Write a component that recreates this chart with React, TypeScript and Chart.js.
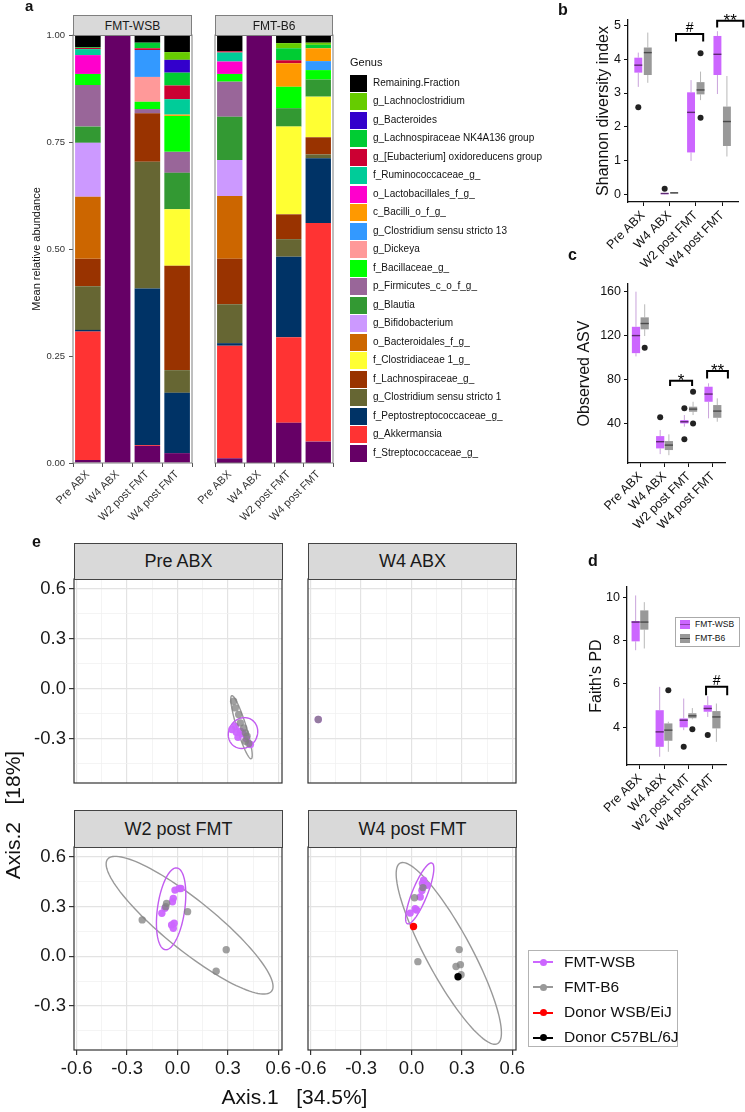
import React, { useEffect, useRef } from 'react';
import { Chart, registerables } from 'chart.js';

Chart.register(...registerables);

const FONT = "'Liberation Sans', Arial, Helvetica, sans-serif";
Chart.defaults.font.family = FONT;
Chart.defaults.color = '#222';

// ---------------- panel a data ----------------
const CATS = ['Pre ABX', 'W4 ABX', 'W2 post FMT', 'W4 post FMT'];
const FACETS_A = ['FMT-WSB', 'FMT-B6'];
const GENERA = [
  'Remaining.Fraction', 'g_Lachnoclostridium', 'g_Bacteroides', 'g_Lachnospiraceae NK4A136 group',
  'g_[Eubacterium] oxidoreducens group', 'f_Ruminococcaceae_g_', 'o_Lactobacillales_f_g_', 'c_Bacilli_o_f_g_',
  'g_Clostridium sensu stricto 13', 'g_Dickeya', 'f_Bacillaceae_g_', 'p_Firmicutes_c_o_f_g_', 'g_Blautia',
  'g_Bifidobacterium', 'o_Bacteroidales_f_g_', 'f_Clostridiaceae 1_g_', 'f_Lachnospiraceae_g_',
  'g_Clostridium sensu stricto 1', 'f_Peptostreptococcaceae_g_', 'g_Akkermansia', 'f_Streptococcaceae_g_',
];
const GENUS_COLORS = [
  '#000000', '#66CC00', '#3300CC', '#00CC33', '#CC0033', '#00CC99', '#FF00CC', '#FF9900', '#3399FF', '#FF9999',
  '#00FF00', '#996699', '#339933', '#CC99FF', '#CC6600', '#FFFF33', '#993300', '#666633', '#003366', '#FF3333', '#660066',
];
const A_TICKS = [0, 0.25, 0.5, 0.75, 1];
const A_TICK_LABELS = ['0.00', '0.25', '0.50', '0.75', '1.00'];

// values in GENERA order
const WSB_PRE = [0.028, 0, 0, 0.002, 0.003, 0.014, 0.044, 0, 0, 0, 0.026, 0.097, 0.038, 0.126, 0.145, 0, 0.064, 0.102, 0.004, 0.300, 0.007];
const WSB_W4ABX = [0, 0, 0, 0, 0, 0, 0, 0, 0, 0, 0, 0, 0, 0, 0, 0, 0, 0, 0, 0, 1];
const WSB_W2 = [0.018, 0, 0, 0.013, 0.004, 0, 0, 0, 0.063, 0.058, 0.017, 0.010, 0, 0, 0, 0, 0.113, 0.296, 0.366, 0.002, 0.040];
const WSB_W4 = [0.040, 0.018, 0.030, 0.030, 0.032, 0.036, 0, 0.003, 0, 0, 0.084, 0.049, 0.085, 0, 0, 0.132, 0.244, 0.053, 0.141, 0, 0.023];
const B6_PRE = [0.038, 0, 0, 0, 0.003, 0.021, 0.029, 0, 0, 0, 0.018, 0.082, 0.101, 0.084, 0.147, 0, 0.106, 0.091, 0.006, 0.263, 0.011];
const B6_W4ABX = [0, 0, 0, 0, 0, 0, 0, 0, 0, 0, 0, 0, 0, 0, 0, 0, 0, 0, 0, 0, 1];
const B6_W2 = [0.019, 0.012, 0, 0.028, 0.007, 0, 0, 0.055, 0, 0, 0.050, 0, 0.043, 0, 0, 0.205, 0.058, 0.041, 0.188, 0.200, 0.094];
const B6_W4 = [0.018, 0.005, 0, 0.008, 0, 0, 0, 0.030, 0.021, 0, 0.022, 0, 0.040, 0, 0, 0.095, 0.040, 0.009, 0.151, 0.511, 0.050];

// ---------------- panels b, c, d data: [lower whisker, q1, median, q3, upper whisker] ----------------
const GROUPS = ['FMT-WSB', 'FMT-B6'];
const SHANNON_WSB = [[3.18, 3.6, 3.82, 4.04, 4.19], [0.02, 0.03, 0.04, 0.05, 0.06], [1.0, 1.25, 2.43, 3.02, 3.38], [2.97, 3.53, 4.14, 4.68, 4.82]];
const SHANNON_B6 = [[3.30, 3.53, 4.19, 4.34, 4.78], [0.04, 0.05, 0.06, 0.07, 0.08], [2.79, 2.96, 3.09, 3.32, 3.63], [1.13, 1.44, 2.16, 2.60, 3.50]];
const SHANNON_WSB_OUT = [[1, 2.58], [2, 0.18]];
const SHANNON_B6_OUT = [[3, 4.17], [3, 2.27]];
const SHANNON_TICKS = [0, 1, 2, 3, 4, 5];
const SHANNON_BRACKETS = [[2.25, 3.28, 4.74, 4.52, '#'], [3.81, 4.8, 5.13, 4.93, '**']];

const ASV_WSB = [[101, 104, 120, 128, 160], [12, 17.2, 23.3, 28.4, 34], [37, 40, 41.5, 43, 47.6], [44.6, 59.7, 66.7, 73.4, 76.5]];
const ASV_B6 = [[119.6, 125.7, 131, 136.6, 148.5], [11, 15.7, 20.2, 23.9, 30], [47.6, 50.6, 53, 55.2, 59.7], [41.5, 45.1, 51.2, 56.7, 62.8]];
const ASV_WSB_OUT = [[2, 45.5], [3, 53.7], [3, 25.5]];
const ASV_B6_OUT = [[1, 109], [3, 68.8], [3, 40]];
const ASV_TICKS = [40, 80, 120, 160];
const ASV_BRACKETS = [[2.23, 3.14, 78.9, 74, '*'], [3.76, 4.62, 87.7, 81, '**']];

const FAITH_WSB = [[7.55, 7.96, 8.85, 8.9, 10.08], [2.63, 3.09, 3.78, 4.78, 5.86], [3.86, 3.99, 4.32, 4.4, 5.32], [4.47, 4.71, 4.86, 5.01, 5.43]];
const FAITH_B6 = [[7.63, 8.5, 8.85, 9.39, 9.77], [2.86, 3.37, 3.86, 4.17, 4.25], [4.36, 4.41, 4.52, 4.64, 4.88], [3.32, 3.94, 4.47, 4.74, 5.09]];
const FAITH_WSB_OUT = [[3, 3.09], [4, 3.63]];
const FAITH_B6_OUT = [[2, 5.7], [3, 3.9]];
const FAITH_TICKS = [4, 6, 8, 10];
const FAITH_BRACKETS = [[3.75, 4.63, 5.86, 5.47, '#']];

// ---------------- panel e data ----------------
const E_FACETS = ['Pre ABX', 'W4 ABX', 'W2 post FMT', 'W4 post FMT'];
const E_TICKS = [-0.6, -0.3, 0, 0.3, 0.6];
const E_TICK_LABELS = ['-0.6', '-0.3', '0.0', '0.3', '0.6'];
const E_MINOR = [-0.45, -0.15, 0.15, 0.45];
const E_GROUPS = ['FMT-WSB', 'FMT-B6', 'Donor WSB/EiJ', 'Donor C57BL/6J'];

const PRE_WSB_PTS = [[0.324, -0.244], [0.344, -0.224], [0.374, -0.254], [0.39, -0.27], [0.41, -0.3], [0.434, -0.334], [0.36, -0.29], [0.35, -0.26]];
const PRE_B6_PTS = [[0.334, -0.074], [0.344, -0.114], [0.364, -0.154], [0.374, -0.204], [0.394, -0.234], [0.404, -0.264], [0.414, -0.284], [0.404, -0.314], [0.424, -0.328]];
const W4ABX_WSB_PTS = [[-0.555, -0.184]];
const W4ABX_B6_PTS = [[-0.555, -0.184]];
const W2_WSB_PTS = [[-0.093, 0.26], [-0.075, 0.29], [-0.03, 0.33], [-0.025, 0.35], [-0.015, 0.40], [0.01, 0.41], [0.02, 0.41], [-0.035, 0.19], [-0.025, 0.17], [-0.02, 0.2]];
const W2_B6_PTS = [[-0.21, 0.22], [-0.07, 0.30], [-0.065, 0.32], [0.06, 0.27], [0.29, 0.04], [0.23, -0.09]];
const W4_WSB_PTS = [[-0.008, 0.261], [0.022, 0.287], [0.03, 0.28], [0.062, 0.398], [0.072, 0.459], [0.065, 0.44], [0.092, 0.429], [0.052, 0.358]];
const W4_B6_PTS = [[0.018, 0.354], [0.068, 0.415], [0.038, -0.032], [0.284, 0.041], [0.265, -0.061], [0.291, -0.05], [0.295, -0.111]];
const DONOR_WSB_PTS = [[0.012, 0.18]];
const DONOR_B6_PTS = [[0.277, -0.123]];

// ellipses: [cx, cy, semi-major, semi-minor, angle in degrees]
const PRE_ELL_WSB = [0.39, -0.265, 0.095, 0.085, 60];
const PRE_ELL_B6 = [0.381, -0.23, 0.198, 0.028, -73];
const W2_ELL_WSB = [-0.038, 0.287, 0.249, 0.081, 82];
const W2_ELL_B6 = [0.072, 0.188, 0.63, 0.15, -39.3];
const W4_ELL_WSB = [0.049, 0.38, 0.197, 0.045, 68.3];
const W4_ELL_B6 = [0.222, 0.018, 0.617, 0.135, -62];

// ---------------- styles ----------------
const PURPLE = '#CC66FF';
const GREY = '#999999';
const E_COLORS = ['#CC66FF', '#999999', '#FF0000', '#000000'];
const E_POINT_COLORS = ['rgba(204,102,255,0.95)', 'rgba(128,128,128,0.75)', '#FF0000', '#000000'];

const fixSize = (size: number) => (s: any) => {
  if (s.isHorizontal()) s.height = size; else s.width = size;
  s.paddingLeft = 0; s.paddingRight = 0; s.paddingTop = 0; s.paddingBottom = 0;
};

const panelBox = {
  id: 'panelBox',
  afterDraw(chart: any, _a: any, opts: any) {
    if (!opts || !opts.color) return;
    const { ctx, chartArea } = chart;
    ctx.save();
    ctx.strokeStyle = opts.color;
    ctx.lineWidth = opts.width || 1;
    ctx.strokeRect(chartArea.left, chartArea.top, chartArea.right - chartArea.left, chartArea.bottom - chartArea.top);
    ctx.restore();
  },
};

const boxPlugin = {
  id: 'boxes',
  beforeDatasetsDraw(chart: any, _a: any, opts: any) {
    if (!opts || !opts.groups) return;
    const xs = chart.scales.x, ys = chart.scales.y, ctx = chart.ctx;
    ctx.save();
    opts.groups.forEach((g: any) => {
      g.stats.forEach((s: number[], i: number) => {
        const c = i + 1 + g.off;
        const xl = xs.getPixelForValue(c - opts.width / 2);
        const xr = xs.getPixelForValue(c + opts.width / 2);
        const xc = xs.getPixelForValue(c);
        const [lo, q1, med, q3, hi] = s.map((v) => ys.getPixelForValue(v));
        ctx.strokeStyle = g.whisker;
        ctx.lineWidth = 1;
        ctx.beginPath();
        ctx.moveTo(xc, lo); ctx.lineTo(xc, q1);
        ctx.moveTo(xc, q3); ctx.lineTo(xc, hi);
        ctx.stroke();
        ctx.fillStyle = g.fill;
        ctx.fillRect(xl, q3, xr - xl, Math.max(q1 - q3, 1));
        ctx.strokeStyle = g.median;
        ctx.lineWidth = 1.4;
        ctx.beginPath();
        ctx.moveTo(xl, med); ctx.lineTo(xr, med);
        ctx.stroke();
      });
    });
    ctx.restore();
  },
  afterDatasetsDraw(chart: any, _a: any, opts: any) {
    if (!opts || !opts.brackets) return;
    const xs = chart.scales.x, ys = chart.scales.y, ctx = chart.ctx;
    ctx.save();
    ctx.strokeStyle = '#000';
    ctx.fillStyle = '#000';
    ctx.lineWidth = 2;
    opts.brackets.forEach((b: any[]) => {
      const x1 = xs.getPixelForValue(b[0]), x2 = xs.getPixelForValue(b[1]);
      const yt = ys.getPixelForValue(b[2]), ye = ys.getPixelForValue(b[3]);
      ctx.beginPath();
      ctx.moveTo(x1, ye); ctx.lineTo(x1, yt); ctx.lineTo(x2, yt); ctx.lineTo(x2, ye);
      ctx.stroke();
      const star = String(b[4]).includes('*');
      ctx.font = `${star ? 17 : 14}px ${FONT}`;
      ctx.textAlign = 'center';
      ctx.textBaseline = 'alphabetic';
      ctx.fillText(String(b[4]), (x1 + x2) / 2, yt + (star ? 5 : -2));
    });
    ctx.restore();
  },
};

const ellipsePlugin = {
  id: 'ellipses',
  beforeDatasetsDraw(chart: any, _a: any, opts: any) {
    if (!opts || !opts.list) return;
    const xs = chart.scales.x, ys = chart.scales.y, ctx = chart.ctx, ca = chart.chartArea;
    ctx.save();
    ctx.beginPath();
    ctx.rect(ca.left, ca.top, ca.right - ca.left, ca.bottom - ca.top);
    ctx.clip();
    opts.list.forEach((e: any) => {
      const [cx, cy, a, b, ang] = e.p;
      const th = (ang * Math.PI) / 180;
      ctx.strokeStyle = e.color;
      ctx.lineWidth = 1.4;
      ctx.beginPath();
      for (let k = 0; k <= 120; k++) {
        const t = (k / 120) * Math.PI * 2;
        const dx = a * Math.cos(t), dy = b * Math.sin(t);
        const px = xs.getPixelForValue(cx + dx * Math.cos(th) - dy * Math.sin(th));
        const py = ys.getPixelForValue(cy + dx * Math.sin(th) + dy * Math.cos(th));
        if (k === 0) ctx.moveTo(px, py); else ctx.lineTo(px, py);
      }
      ctx.stroke();
    });
    ctx.restore();
  },
};

// ---------------- configs ----------------
function barConfig(bars: number[][], showY: boolean, pad: any) {
  const datasets: any[] = [];
  for (let g = GENERA.length - 1; g >= 0; g--) {
    datasets.push({
      label: GENERA[g],
      data: bars.map((b) => b[g]),
      backgroundColor: GENUS_COLORS[g],
      borderWidth: 0,
      barPercentage: 0.86,
      categoryPercentage: 1,
    });
  }
  return {
    type: 'bar',
    data: { labels: CATS, datasets },
    options: {
      responsive: false, animation: false, events: [],
      layout: { padding: pad },
      plugins: { legend: { display: false }, tooltip: { enabled: false }, panelBox: { color: '#7F7F7F', width: 1 } },
      scales: {
        x: {
          stacked: true,
          grid: { drawOnChartArea: false, tickLength: 4, color: '#555' },
          border: { display: false },
          ticks: { minRotation: 45, maxRotation: 45, autoSkip: false, font: { size: 11 }, color: '#333', padding: 1 },
          afterFit: fixSize(67),
        },
        y: {
          stacked: true, min: 0, max: 1, display: showY,
          afterBuildTicks: (s: any) => { s.ticks = A_TICKS.map((v) => ({ value: v })); },
          ticks: { callback: (v: any) => A_TICK_LABELS[A_TICKS.indexOf(v)], font: { size: 9.5 }, color: '#333', padding: 4 },
          grid: { drawOnChartArea: false, tickLength: 4, color: '#555' },
          border: { display: false },
          title: { display: true, text: 'Mean relative abundance', font: { size: 11 }, color: '#111', padding: { top: 30, bottom: 0 } },
          afterFit: fixSize(showY ? 73 : 0),
        },
      },
    },
    plugins: [panelBox],
  };
}

function boxConfig(o: any) {
  const off = [-0.18, 0.18];
  return {
    type: 'scatter',
    data: {
      datasets: [
        { data: o.wsbOut.map((p: number[]) => ({ x: p[0] + off[0], y: p[1] })), pointRadius: 3, backgroundColor: '#222', borderWidth: 0 },
        { data: o.b6Out.map((p: number[]) => ({ x: p[0] + off[1], y: p[1] })), pointRadius: 3, backgroundColor: '#222', borderWidth: 0 },
      ],
    },
    options: {
      responsive: false, animation: false, events: [],
      layout: { padding: o.pad },
      plugins: {
        legend: { display: false }, tooltip: { enabled: false },
        boxes: {
          width: o.boxW,
          brackets: o.brackets,
          groups: [
            { stats: o.wsb, off: off[0], fill: PURPLE, whisker: '#C9A3DB', median: '#5E2A72' },
            { stats: o.b6, off: off[1], fill: GREY, whisker: '#B8B8B8', median: '#4A4A4A' },
          ],
        },
      },
      scales: {
        x: {
          type: 'linear', min: o.xMin, max: o.xMax,
          afterBuildTicks: (s: any) => { s.ticks = CATS.map((_, i) => ({ value: i + 1 })); },
          ticks: { callback: (v: any) => CATS[Math.round(v) - 1], minRotation: 45, maxRotation: 45, autoSkip: false, font: { size: 12.5 }, color: '#111', padding: 2 },
          grid: { drawOnChartArea: false, tickLength: 4, color: '#111' },
          border: { color: '#111', width: 1.3 },
          afterFit: fixSize(o.xH),
        },
        y: {
          type: 'linear', min: o.yMin, max: o.yMax,
          afterBuildTicks: (s: any) => { s.ticks = o.yTicks.map((v: number) => ({ value: v })); },
          ticks: { font: { size: 12.5 }, color: '#111', padding: 3 },
          grid: { drawOnChartArea: false, tickLength: 4, color: '#111' },
          border: { color: '#111', width: 1.3 },
          title: { display: true, text: o.title, font: { size: 16 }, color: '#111', padding: { top: o.titlePad, bottom: 0 } },
          afterFit: fixSize(o.yW),
        },
      },
    },
    plugins: [boxPlugin],
  };
}

const isMajor = (v: number) => E_TICKS.some((t) => Math.abs(t - v) < 1e-9);
const eLabel = (v: number) => {
  const i = E_TICKS.findIndex((t) => Math.abs(t - v) < 1e-9);
  return i >= 0 ? E_TICK_LABELS[i] : '';
};

function eAxis(min: number, max: number, show: boolean, size: number) {
  return {
    type: 'linear', min, max,
    afterBuildTicks: (s: any) => {
      s.ticks = [...E_TICKS, ...E_MINOR].filter((v) => v >= min && v <= max).sort((a, b) => a - b).map((v) => ({ value: v }));
    },
    ticks: { display: show, callback: (v: any) => eLabel(v), font: { size: 18.5 }, color: '#1a1a1a', padding: 3, autoSkip: false, minRotation: 0, maxRotation: 0 },
    grid: {
      color: (c: any) => (c.tick && isMajor(c.tick.value) ? '#E3E3E3' : '#F1F1F1'),
      lineWidth: (c: any) => (c.tick && isMajor(c.tick.value) ? 1.2 : 0.8),
      drawTicks: show, tickLength: 5,
      tickColor: (c: any) => (c.tick && isMajor(c.tick.value) ? '#333' : 'rgba(0,0,0,0)'),
    },
    border: { display: false },
    afterFit: fixSize(size),
  };
}

function eConfig(o: any) {
  // higher "order" is drawn first (underneath)
  const mk = (pts: number[][], color: string, order: number) => ({
    data: pts.map((p) => ({ x: p[0], y: p[1] })), backgroundColor: color, pointRadius: 3.7, borderWidth: 0, order,
  });
  const ds = [mk(o.wsb, E_POINT_COLORS[0], 4), mk(o.b6, E_POINT_COLORS[1], 3)];
  if (o.donorW) ds.push(mk(o.donorW, E_POINT_COLORS[2], 2));
  if (o.donorB) ds.push(mk(o.donorB, E_POINT_COLORS[3], 1));
  return {
    type: 'scatter',
    data: { datasets: ds },
    options: {
      responsive: false, animation: false, events: [],
      layout: { padding: o.pad },
      plugins: {
        legend: { display: false }, tooltip: { enabled: false },
        panelBox: { color: '#333', width: 1.2 },
        ellipses: { list: o.ellipses || [] },
      },
      scales: {
        x: eAxis(-0.616, 0.622, o.showX, o.showX ? 40 : 0),
        y: eAxis(-0.565, 0.66, o.showY, o.showY ? 74 : 0),
      },
    },
    plugins: [panelBox, ellipsePlugin],
  };
}

// ---------------- components ----------------
function ChartCanvas({ left, top, width, height, build }: any) {
  const ref = useRef<HTMLCanvasElement>(null);
  useEffect(() => {
    const chart = new Chart(ref.current as HTMLCanvasElement, build());
    return () => chart.destroy();
  }, []);
  return <canvas ref={ref} width={width} height={height} style={{ position: 'absolute', left, top, width, height }} />;
}

function Text({ left, top, size, bold, children, style }: any) {
  return (
    <div style={{ position: 'absolute', left, top, fontSize: size, fontWeight: bold ? 'bold' : 'normal', lineHeight: 1, whiteSpace: 'nowrap', ...style }}>
      {children}
    </div>
  );
}

function Strip({ left, top, width, height, size, text, border }: any) {
  return (
    <div style={{
      position: 'absolute', left, top, width, height, boxSizing: 'border-box', background: '#D9D9D9',
      border: `1px solid ${border}`, display: 'flex', alignItems: 'center', justifyContent: 'center', fontSize: size, color: '#1a1a1a',
    }}>{text}</div>
  );
}

export default function App() {
  return (
    <div style={{ position: 'absolute', left: 0, top: 0, width: 745, height: 1112, overflow: 'hidden', background: '#fff', fontFamily: FONT, color: '#111' }}>
      {/* panel a */}
      <ChartCanvas left={0} top={0} width={196} height={530} build={() => barConfig([WSB_PRE, WSB_W4ABX, WSB_W2, WSB_W4], true, { top: 35, right: 4, left: 0, bottom: 0 })} />
      <ChartCanvas left={190} top={0} width={150} height={530} build={() => barConfig([B6_PRE, B6_W4ABX, B6_W2, B6_W4], false, { top: 35, right: 7, left: 25, bottom: 0 })} />
      <Strip left={73} top={15} width={119} height={21} size={12} text={FACETS_A[0]} border="#7F7F7F" />
      <Strip left={215} top={15} width={118} height={21} size={12} text={FACETS_A[1]} border="#7F7F7F" />
      <Text left={350} top={57} size={11}>Genus</Text>
      {GENERA.map((g, i) => (
        <React.Fragment key={g}>
          <div style={{ position: 'absolute', left: 350, top: 83 + i * 18.5 - 8.5, width: 17, height: 17, background: GENUS_COLORS[i] }} />
          <Text left={373} top={83 + i * 18.5 - 5.5} size={10}>{g}</Text>
        </React.Fragment>
      ))}

      {/* panel b */}
      <ChartCanvas left={540} top={0} width={205} height={270} build={() => boxConfig({
        wsb: SHANNON_WSB, b6: SHANNON_B6, wsbOut: SHANNON_WSB_OUT, b6Out: SHANNON_B6_OUT, yTicks: SHANNON_TICKS,
        brackets: SHANNON_BRACKETS, xMin: 0.43, xMax: 4.6, yMin: -0.21, yMax: 5.15, boxW: 0.3,
        title: 'Shannon diversity index', titlePad: 54.4, yW: 88, xH: 68, pad: { top: 20, right: 7, left: 0, bottom: 0 },
      })} />
      {/* panel c */}
      <ChartCanvas left={540} top={270} width={205} height={275} build={() => boxConfig({
        wsb: ASV_WSB, b6: ASV_B6, wsbOut: ASV_WSB_OUT, b6Out: ASV_B6_OUT, yTicks: ASV_TICKS,
        brackets: ASV_BRACKETS, xMin: 0.49, xMax: 4.5, yMin: 3.9, yMax: 167, boxW: 0.34,
        title: 'Observed ASV', titlePad: 35.4, yW: 88, xH: 82, pad: { top: 14, right: 20, left: 0, bottom: 0 },
      })} />
      {/* panel d */}
      <ChartCanvas left={540} top={545} width={205} height={290} build={() => boxConfig({
        wsb: FAITH_WSB, b6: FAITH_B6, wsbOut: FAITH_WSB_OUT, b6Out: FAITH_B6_OUT, yTicks: FAITH_TICKS,
        brackets: FAITH_BRACKETS, xMin: 0.46, xMax: 4.58, yMin: 2.25, yMax: 10.47, boxW: 0.34,
        title: "Faith's PD", titlePad: 47.4, yW: 87, xH: 70, pad: { top: 42, right: 19, left: 0, bottom: 0 },
      })} />
      <div style={{ position: 'absolute', left: 675, top: 617, width: 65, height: 30, boxSizing: 'border-box', border: '1px solid #AAAAAA', background: '#fff' }} />
      {GROUPS.map((g, i) => (
        <React.Fragment key={g}>
          <div style={{ position: 'absolute', left: 680, top: 624 + i * 14 - 4.5, width: 10, height: 9, background: i === 0 ? PURPLE : GREY }} />
          <div style={{ position: 'absolute', left: 680, top: 624 + i * 14 - 0.5, width: 10, height: 1, background: i === 0 ? '#8A3DAA' : '#4A4A4A' }} />
          <Text left={695} top={624 + i * 14 - 4.5} size={8.5}>{g}</Text>
        </React.Fragment>
      ))}

      {/* panel e */}
      <ChartCanvas left={0} top={540} width={300} height={250} build={() => eConfig({
        wsb: PRE_WSB_PTS, b6: PRE_B6_PTS, showX: false, showY: true,
        ellipses: [{ p: PRE_ELL_B6, color: '#999999' }, { p: PRE_ELL_WSB, color: '#C25CF0' }],
        pad: { top: 39, bottom: 7, left: 0, right: 18 },
      })} />
      <ChartCanvas left={285} top={540} width={250} height={250} build={() => eConfig({
        wsb: W4ABX_WSB_PTS, b6: W4ABX_B6_PTS, showX: false, showY: false,
        pad: { top: 39, bottom: 7, left: 23, right: 19 },
      })} />
      <ChartCanvas left={0} top={805} width={300} height={307} build={() => eConfig({
        wsb: W2_WSB_PTS, b6: W2_B6_PTS, showX: true, showY: true,
        ellipses: [{ p: W2_ELL_B6, color: '#999999' }, { p: W2_ELL_WSB, color: '#C25CF0' }],
        pad: { top: 42, bottom: 22, left: 0, right: 18 },
      })} />
      <ChartCanvas left={285} top={805} width={250} height={307} build={() => eConfig({
        wsb: W4_WSB_PTS, b6: W4_B6_PTS, donorW: DONOR_WSB_PTS, donorB: DONOR_B6_PTS, showX: true, showY: false,
        ellipses: [{ p: W4_ELL_B6, color: '#999999' }, { p: W4_ELL_WSB, color: '#C25CF0' }],
        pad: { top: 42, bottom: 22, left: 23, right: 19 },
      })} />
      <Strip left={74} top={543} width={209} height={37} size={18} text={E_FACETS[0]} border="#444" />
      <Strip left={308} top={543} width={209} height={37} size={18} text={E_FACETS[1]} border="#444" />
      <Strip left={74} top={810} width={209} height={38} size={18} text={E_FACETS[2]} border="#444" />
      <Strip left={308} top={810} width={209} height={38} size={18} text={E_FACETS[3]} border="#444" />
      <div style={{ position: 'absolute', left: 13 - 150, top: 815 - 12, width: 300, height: 24, lineHeight: '24px', textAlign: 'center', fontSize: 21, transform: 'rotate(-90deg)', whiteSpace: 'pre' }}>
        {'Axis.2   [18%]'}
      </div>
      <div style={{ position: 'absolute', left: 94.5, top: 1097 - 12, width: 400, height: 24, lineHeight: '24px', textAlign: 'center', fontSize: 21, whiteSpace: 'pre' }}>
        {'Axis.1   [34.5%]'}
      </div>
      <div style={{ position: 'absolute', left: 528, top: 950, width: 150, height: 97, boxSizing: 'border-box', border: '1px solid #B3B3B3', background: '#fff' }} />
      {E_GROUPS.map((g, i) => (
        <React.Fragment key={g}>
          <div style={{ position: 'absolute', left: 533, top: 962 + i * 25.3 - 1, width: 20, height: 2, background: E_COLORS[i] }} />
          <div style={{ position: 'absolute', left: 539.5, top: 962 + i * 25.3 - 3.5, width: 7, height: 7, borderRadius: 4, background: E_COLORS[i] }} />
          <Text left={564} top={962 + i * 25.3 - 8.5} size={15.5}>{g}</Text>
        </React.Fragment>
      ))}

      {/* panel letters */}
      <Text left={25} top={-2.5} size={15} bold>a</Text>
      <Text left={558} top={1.5} size={16} bold>b</Text>
      <Text left={568} top={246.5} size={16} bold>c</Text>
      <Text left={588} top={553} size={16} bold>d</Text>
      <Text left={32} top={533.5} size={16} bold>e</Text>
    </div>
  );
}
